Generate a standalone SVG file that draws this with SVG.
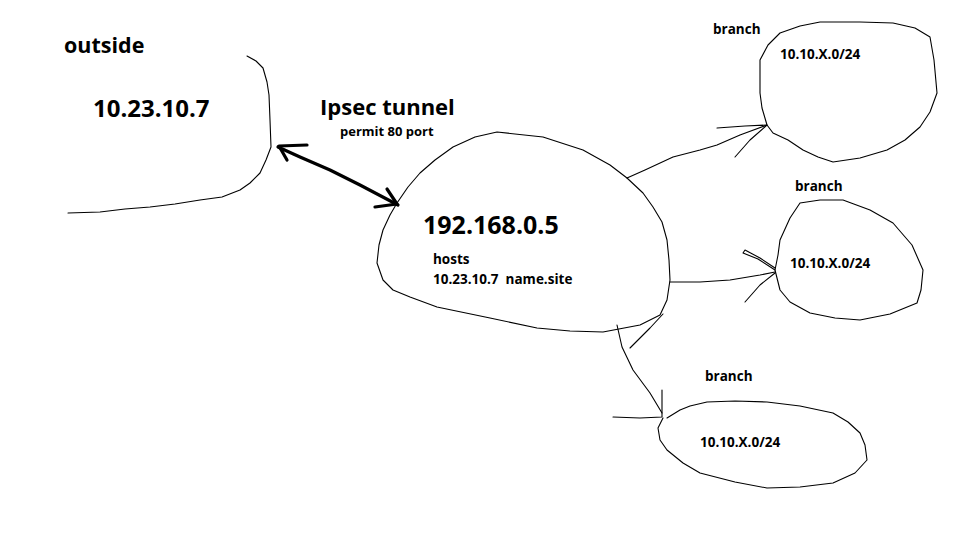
<svg xmlns="http://www.w3.org/2000/svg" width="960" height="540" viewBox="0 0 960 540">
<style>
.s{fill:none;stroke:#000;stroke-width:1.1;stroke-linejoin:round;stroke-linecap:round}
.t{fill:none;stroke:#000;stroke-width:3.2;stroke-linejoin:round;stroke-linecap:round}
text{font-family:"Open Sans","Liberation Sans",sans-serif;font-weight:700;fill:#000}
.b{font-size:13.5px}
</style>
<rect width="960" height="540" fill="#fff"/>
<g id="outside">
<path class="s" d="M247,56 L256,61 L263,68 L267,82 L269,95 L270,120 L271,147 L266,160 L260,173 L250,183 L240,190 L222,197 L200,200 L175,204 L150,207 L125,209 L100,212 L68,213"/>
<text x="64" y="53" font-size="21.5">outside</text>
<text x="93" y="117" font-size="24">10.23.10.7</text>
</g>
<g id="tunnel-label">
<text x="320" y="115" font-size="22">Ipsec tunnel</text>
<text x="340" y="136" font-size="13">permit 80 port</text>
</g>
<g id="hub">
<path class="s" d="M497,132 L543,137 L583,150 L610,165 L627,178 L643,193 L653,207 L662,222 L667,240 L669,260 L670,280 L667,300 L660,315 L640,325 L603,332 L570,331 L537,328 L490,318 L437,307 L410,297 L393,290 L383,280 L377,263 L379,245 L383,230 L390,215 L397,203 L408,187 L420,173 L435,160 L453,147 L475,137 Z"/>
<text x="423" y="234" font-size="25">192.168.0.5</text>
<text class="b" x="433" y="264">hosts</text>
<text class="b" x="433" y="284" xml:space="preserve">10.23.10.7  name.site</text>
</g>
<g id="branch1">
<path class="s" d="M767,125 L762,108 L760,93 L760,60 L768,45 L780,33 L800,26 L820,22 L860,22 L893,23 L915,28 L930,37 L934,60 L937,93 L930,112 L920,127 L905,140 L887,150 L860,158 L833,162 L818,157 L803,150 L788,140 L773,133 Z"/>
<text class="b" x="713" y="34">branch</text>
<text class="b" x="780" y="59">10.10.X.0/24</text>
</g>
<g id="branch2">
<path class="s" d="M775,270 L778,255 L780,240 L790,218 L800,203 L820,200 L843,200 L870,210 L893,223 L912,245 L923,270 L921,290 L917,303 L890,314 L860,320 L835,318 L810,313 L790,302 L780,290 Z"/>
<text class="b" x="795" y="191">branch</text>
<text class="b" x="790" y="268">10.10.X.0/24</text>
</g>
<g id="branch3">
<path class="s" d="M663,418 L658,428 L660,440 L667,450 L683,463 L700,473 L735,482 L767,488 L800,487 L833,483 L855,473 L867,460 L865,445 L860,433 L848,422 L833,413 L800,406 L767,402 L735,401 L707,402 L690,406 L680,410 L667,418"/>
<text class="b" x="705" y="381">branch</text>
<text class="b" x="700" y="447">10.10.X.0/24</text>
</g>
<g id="connectors">
<path class="t" d="M278,147 L300,157 L330,170 L360,185 L398,205"/>
<path class="t" d="M307,145 L279,146 L287,160"/>
<path class="t" d="M387,189 L397,204 L375,207"/>
<path class="s" d="M627,178 L645,170 L673,157 L700,150 L717,145 L740,135 L767,125"/>
<path class="s" d="M717,128 L745,126 L767,125 L750,140 L735,157"/>
<path class="s" d="M670,282 L700,282 L730,280 L760,275 L775,272"/>
<path class="s" d="M775,270 L758,259 L743,253 L745,250 L760,258 L775,268"/>
<path class="s" d="M775,273 L760,285 L745,302"/>
<path class="s" d="M617,325 L622,347 L633,370 L650,393 L662,413"/>
<path class="s" d="M663,314 L650,328 L630,348"/>
<path class="s" d="M662,390 L662,417 L640,418 L613,417"/>
</g>
</svg>
